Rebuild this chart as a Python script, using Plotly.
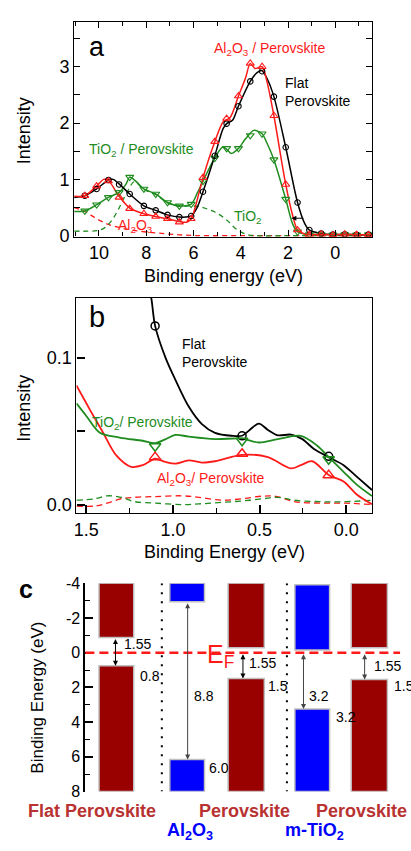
import plotly.graph_objects as go

W, H = 411, 851

# ---------------- Panel a data (binding energy eV, intensity) ----------------
a_black_E = [11.05, 10.6, 10.1, 9.6, 9.4, 9.15, 8.7, 8.1, 7.6, 7.1, 6.6, 6.1, 5.85, 5.6, 5.1, 4.75, 4.6, 4.35, 4.1, 3.6, 3.3, 3.1, 2.9, 2.6, 2.1, 1.6, 1.3, 1.1, 0.6, 0.1, -0.4, -0.9, -1.4, -1.55]
a_black_I = [0.68, 0.71, 0.83, 0.99, 1.0, 0.92, 0.74, 0.53, 0.45, 0.37, 0.33, 0.35, 0.5, 0.78, 1.42, 1.9, 1.99, 2.05, 2.30, 2.74, 2.9, 2.93, 2.8, 2.47, 1.57, 0.59, 0.22, 0.10, 0.04, 0.02, 0.025, 0.015, 0.02, 0.02]

a_red_E = [11.05, 10.6, 10.1, 9.8, 9.6, 9.15, 8.7, 8.1, 7.6, 7.1, 6.6, 6.3, 6.1, 5.9, 5.6, 5.1, 4.75, 4.45, 4.1, 3.8, 3.6, 3.4, 3.1, 2.9, 2.6, 2.1, 1.8, 1.6, 1.3, 1.1, 0.6, 0.1, -0.4, -0.9, -1.4, -1.55]
a_red_I = [0.70, 0.71, 0.88, 1.0, 0.98, 0.70, 0.49, 0.39, 0.34, 0.30, 0.25, 0.24, 0.30, 0.55, 1.03, 1.67, 2.02, 2.1, 2.48, 2.8, 3.06, 2.97, 3.0, 2.75, 2.13, 0.91, 0.35, 0.10, 0.03, 0.02, 0.025, 0.015, 0.025, 0.02, 0.015, 0.02]

a_green_E = [11.05, 10.6, 10.1, 9.6, 9.15, 8.85, 8.7, 8.4, 8.1, 7.6, 7.1, 6.6, 6.1, 5.85, 5.6, 5.1, 4.75, 4.4, 4.1, 3.8, 3.45, 3.1, 2.9, 2.6, 2.1, 1.8, 1.6, 1.3, 1.1, 0.6, 0.1, -0.4, -0.9, -1.4, -1.55]
a_green_I = [0.43, 0.44, 0.55, 0.68, 0.77, 0.92, 1.04, 0.95, 0.83, 0.74, 0.59, 0.53, 0.56, 0.75, 0.97, 1.38, 1.58, 1.46, 1.55, 1.72, 1.87, 1.81, 1.65, 1.35, 0.65, 0.2, 0.07, 0.03, 0.02, 0.02, 0.015, 0.02, 0.015, 0.02, 0.02]

a_mark_E = [10.6, 10.1, 9.6, 9.15, 8.7, 8.1, 7.6, 7.1, 6.6, 6.1, 5.6, 5.1, 4.6, 4.1, 3.6, 3.1, 2.6, 2.1, 1.6, 1.1, 0.6, 0.1, -0.4, -0.9, -1.4]
a_black_mark = [0.71, 0.83, 0.99, 0.91, 0.74, 0.53, 0.45, 0.37, 0.33, 0.35, 0.78, 1.42, 1.99, 2.30, 2.74, 2.92, 2.47, 1.57, 0.59, 0.10, 0.04, 0.02, 0.025, 0.015, 0.02]
a_red_mark = [0.71, 0.88, 0.97, 0.68, 0.48, 0.39, 0.34, 0.30, 0.24, 0.30, 1.03, 1.67, 2.08, 2.48, 3.06, 3.0, 2.13, 0.91, 0.10, 0.02, 0.025, 0.015, 0.025, 0.02, 0.015]
a_green_mark = [0.44, 0.55, 0.68, 0.77, 1.04, 0.83, 0.74, 0.59, 0.53, 0.56, 0.97, 1.38, 1.55, 1.55, 1.78, 1.81, 1.35, 0.65, 0.07, 0.02, 0.02, 0.015, 0.02, 0.015, 0.02]

a_al2o3_E = [11.05, 10.6, 10.1, 9.6, 9.1, 8.6, 8.1, 7.6, 7.1, 6.6, 6.1, 5.6, 4.0, 2.0, 0.0, -1.55]
a_al2o3_I = [0.50, 0.43, 0.30, 0.20, 0.14, 0.10, 0.07, 0.05, 0.03, 0.015, 0.005, 0.0, 0.0, 0.0, 0.0, 0.0]
a_tio2_E = [11.05, 10.5, 10.1, 9.8, 9.5, 9.2, 9.0, 8.75, 8.5, 8.1, 7.6, 7.1, 6.6, 6.1, 5.85, 5.6, 5.1, 4.6, 4.2, 3.8, 3.4, 2.0, 0.0, -1.55]
a_tio2_I = [0.08, 0.08, 0.09, 0.13, 0.25, 0.45, 0.62, 0.82, 0.96, 0.82, 0.73, 0.58, 0.52, 0.53, 0.52, 0.50, 0.42, 0.28, 0.12, 0.03, 0.0, 0.0, 0.0, 0.0]

a_xticks = [10, 8, 6, 4, 2, 0]
a_yticks = [0, 1, 2, 3]

# ---------------- Panel b data ----------------
b_black_E = [1.14, 1.125, 1.103, 1.042, 0.985, 0.909, 0.833, 0.757, 0.662, 0.601, 0.557, 0.504, 0.452, 0.395, 0.319, 0.253, 0.186, 0.101, 0.015, -0.061, -0.149]
b_black_I = [0.148, 0.141, 0.122, 0.100, 0.085, 0.067, 0.055, 0.049, 0.047, 0.047, 0.051, 0.0553, 0.051, 0.0473, 0.0478, 0.0447, 0.038, 0.0324, 0.0269, 0.0191, 0.0100]
b_green_E = [1.557, 1.498, 1.422, 1.308, 1.175, 1.103, 1.042, 0.985, 0.909, 0.757, 0.601, 0.504, 0.395, 0.262, 0.167, 0.101, 0.015, -0.061, -0.149]
b_green_I = [0.0691, 0.0602, 0.0491, 0.0458, 0.0436, 0.042, 0.0447, 0.0476, 0.0464, 0.0447, 0.0451, 0.0424, 0.0447, 0.0469, 0.0402, 0.0324, 0.0224, 0.0136, 0.0058]
b_red_E = [1.557, 1.479, 1.403, 1.327, 1.241, 1.175, 1.103, 1.042, 0.985, 0.909, 0.833, 0.757, 0.601, 0.452, 0.319, 0.262, 0.196, 0.101, 0.015, -0.061, -0.149]
b_red_I = [0.0813, 0.0647, 0.0491, 0.0336, 0.0258, 0.0269, 0.0313, 0.0291, 0.028, 0.0302, 0.0287, 0.0296, 0.034, 0.0324, 0.0247, 0.0269, 0.0296, 0.0202, 0.0158, 0.0069, 0.0002]
b_mark_E = [1.103, 0.601, 0.101]
b_black_mark = [0.122, 0.047, 0.0330]
b_green_mark = [0.0398, 0.0436, 0.0310]
b_red_mark = [0.0324, 0.0347, 0.0201]
b_dash_E = [1.557, 1.45, 1.38, 1.3, 1.22, 1.1, 0.95, 0.85, 0.72, 0.6, 0.48, 0.4, 0.3, 0.15, 0.0, -0.149]
b_red_dash = [-0.001, -0.001, 0.001, 0.004, 0.005, 0.0055, 0.006, 0.005, 0.003, 0.004, 0.0058, 0.0055, 0.002, 0.001, 0.001, 0.0]
b_green_dash = [0.003, 0.004, 0.006, 0.005, 0.002, 0.001, 0.0, 0.0005, 0.0015, 0.0025, 0.004, 0.005, 0.003, 0.002, 0.002, 0.003]
b_xticks = [1.5, 1.0, 0.5, 0.0]
b_xticktext = ["1.5", "1.0", "0.5", "0.0"]
b_yticks = [0.0, 0.05, 0.1]
b_yticktext = ["0.0", "", "0.1"]

# ---------------- Panel c data (binding energy, eV) ----------------
c_names = ["Flat Perovskite", "Al2O3", "Perovskite/Al2O3", "m-TiO2", "Perovskite/m-TiO2"]
c_cb_top = [-4.0, -4.0, -4.0, -3.92, -4.0]
c_cb_edge = [-0.87, -2.93, -0.28, -0.15, -0.28]
c_vb_edge = [0.75, 6.15, 1.49, 3.24, 1.55]
c_bottom = 8.0
c_is_perov = [True, False, True, False, True]
c_yticks = [-4, -2, 0, 2, 4, 6, 8]
c_yticktext = ["-4", "-2", "0", "2", "4", "6", "8"]
# layout: bar centres / widths in the panel's horizontal units (pixels)
c_pos = [114.2, 185.5, 245.0, 311.5, 369.0]
c_width = [35, 35, 36.5, 35, 36.5]
c_arrows = [(113.3, -0.87, 0.75, "black"), (186.0, -2.93, 6.15, "#444444"),
            (241.7, 0.0, 1.49, "black"), (302.7, 0.0, 3.24, "#444444"), (364.3, 0.0, 1.55, "#444444")]

BLACK = "black"
RED = "#ff1a1a"
GREEN = "#1e8c1e"
DARKRED = "#990000"
BLUE = "#0000ff"
LABELRED = "#b83232"
FONT = "Arial, Liberation Sans, sans-serif"


def px(x):
    return x / W


def py(y):
    return 1 - y / H


fig = go.Figure()

# ---- panel a traces
for E, I, col in [(a_al2o3_E, a_al2o3_I, RED), (a_tio2_E, a_tio2_I, GREEN)]:
    fig.add_trace(go.Scatter(x=E, y=I, mode="lines", line=dict(color=col, width=1.3, dash="5px,4px", shape="spline"),
                             xaxis="x", yaxis="y", showlegend=False, hoverinfo="skip"))
for E, I, col in [(a_green_E, a_green_I, GREEN), (a_black_E, a_black_I, BLACK), (a_red_E, a_red_I, RED)]:
    fig.add_trace(go.Scatter(x=E, y=I, mode="lines", line=dict(color=col, width=1.5, shape="spline", smoothing=0.8),
                             xaxis="x", yaxis="y", showlegend=False))
for I, col, sym, sz in [(a_green_mark, GREEN, "triangle-down-open", 7), (a_black_mark, BLACK, "circle-open", 5.5),
                        (a_red_mark, RED, "triangle-up-open", 7)]:
    fig.add_trace(go.Scatter(x=a_mark_E, y=I, mode="markers",
                             marker=dict(color=col, symbol=sym, size=sz, line=dict(width=1.1, color=col)),
                             xaxis="x", yaxis="y", showlegend=False))

# ---- panel b traces
for I, col in [(b_red_dash, RED), (b_green_dash, GREEN)]:
    fig.add_trace(go.Scatter(x=b_dash_E, y=I, mode="lines", line=dict(color=col, width=1.3, dash="6px,4px", shape="spline"),
                             xaxis="x2", yaxis="y2", showlegend=False))
for E, I, col in [(b_black_E, b_black_I, BLACK), (b_red_E, b_red_I, RED), (b_green_E, b_green_I, GREEN)]:
    fig.add_trace(go.Scatter(x=E, y=I, mode="lines", line=dict(color=col, width=1.8, shape="spline", smoothing=0.9),
                             xaxis="x2", yaxis="y2", showlegend=False))
for I, col, sym, sz in [(b_black_mark, BLACK, "circle-open", 8), (b_green_mark, GREEN, "triangle-down-open", 10),
                        (b_red_mark, RED, "triangle-up-open", 10)]:
    fig.add_trace(go.Scatter(x=b_mark_E, y=I, mode="markers",
                             marker=dict(color=col, symbol=sym, size=sz, line=dict(width=1.5, color=col)),
                             xaxis="x2", yaxis="y2", showlegend=False))

# ---- panel c bars
cols = [DARKRED if p else BLUE for p in c_is_perov]
fig.add_trace(go.Bar(x=c_pos, base=c_cb_top, y=[e - t for e, t in zip(c_cb_edge, c_cb_top)], width=c_width,
                     marker=dict(color=cols, line=dict(color="#c0c0c0", width=1.5)),
                     xaxis="x3", yaxis="y3", showlegend=False, hovertext=c_names))
fig.add_trace(go.Bar(x=c_pos, base=c_vb_edge, y=[c_bottom - v for v in c_vb_edge], width=c_width,
                     marker=dict(color=cols, line=dict(color="#c0c0c0", width=1.5)),
                     xaxis="x3", yaxis="y3", showlegend=False, hovertext=c_names))

ann = []


def txt(x, y, s, size=14, color=BLACK, xanchor="left", bold=False, angle=0, yanchor="middle"):
    if bold:
        s = "<b>" + s + "</b>"
    ann.append(dict(x=px(x), y=py(y), xref="paper", yref="paper", text=s, showarrow=False,
                    xanchor=xanchor, yanchor=yanchor, textangle=angle,
                    font=dict(size=size, color=color, family=FONT), align="left"))


# panel a labels
txt(95, 40, "a", 27, xanchor="center")
txt(268, 42, "Al<sub>2</sub>O<sub>3</sub> / Perovskite", 14, RED, xanchor="center")
txt(282, 86, "Flat<br>Perovskite", 14, BLACK)
txt(85, 145, "TiO<sub>2</sub> / Perovskite", 14, GREEN)
txt(231, 213, "TiO<sub>2</sub>", 14, GREEN)
txt(114, 222, "Al<sub>2</sub>O<sub>3</sub>", 14, RED)
txt(21, 125, "Intensity", 18, xanchor="center", angle=-90)
txt(222, 273, "Binding energy (eV)", 18, xanchor="center")
ann.append(dict(x=1.86, y=0.31, ax=1.29, ay=0.31, xref="x", yref="y", axref="x", ayref="y", text="",
                showarrow=True, arrowhead=2, arrowsize=1, arrowwidth=1, arrowcolor=BLACK))

# panel b labels
txt(95, 315, "b", 29, xanchor="center")
txt(178, 352, "Flat<br>Perovskite", 14, BLACK)
txt(88, 423, "TiO<sub>2</sub>/ Perovskite", 14, GREEN)
txt(153, 481, "Al<sub>2</sub>O<sub>3</sub>/ Perovskite", 14, RED)
txt(21, 408, "Intensity", 18, xanchor="center", angle=-90)
txt(223, 555, "Binding Energy (eV)", 18, xanchor="center")

# panel c labels
txt(23, 593, "c", 25, xanchor="center", bold=True)
txt(35, 704, "Binding Energy (eV)", 17, xanchor="center", angle=-90)
txt(120, 649, "1.55", 14)
txt(136, 682, "0.8", 14)
txt(203, 661, "E<sub>F</sub>", 25, RED)
txt(190, 702, "8.8", 14)
txt(205, 775, "6.0", 14)
txt(246, 668, "1.55", 14)
txt(265, 692, "1.5", 14)
txt(306, 702, "3.2", 14)
txt(333, 723, "3.2", 14)
txt(372, 671, "1.55", 14)
txt(392, 692, "1.5", 14)
txt(90, 819, "Flat Perovskite", 18, LABELRED, xanchor="center", bold=True)
txt(243, 819, "Perovskite", 18, LABELRED, xanchor="center", bold=True)
txt(361, 819, "Perovskite", 18, LABELRED, xanchor="center", bold=True)
txt(188, 840, "Al<sub>2</sub>O<sub>3</sub>", 18, BLUE, xanchor="center", bold=True)
txt(314, 840, "m-TiO<sub>2</sub>", 18, BLUE, xanchor="center", bold=True)

for xpos, y0, y1, col in c_arrows:
    ann.append(dict(x=xpos, y=y1, ax=xpos, ay=y0, xref="x3", yref="y3", axref="x3", ayref="y3", text="",
                    showarrow=True, arrowhead=2, startarrowhead=2, arrowside="end+start",
                    arrowsize=1, startarrowsize=1, arrowwidth=1, arrowcolor=col, standoff=0, startstandoff=0))

shapes = [
    dict(type="line", xref="x3", yref="y3", x0=160, x1=160, y0=-4, y1=8, line=dict(color=BLACK, width=2, dash="2px,7px")),
    dict(type="line", xref="x3", yref="y3", x0=286, x1=286, y0=-4, y1=8, line=dict(color=BLACK, width=2, dash="2px,7px")),
    dict(type="line", xref="x3", yref="y3", x0=83, x1=400, y0=0, y1=0, line=dict(color=RED, width=2.5, dash="9px,5px")),
]

tickfont = dict(size=18, color=BLACK, family=FONT)
axcommon = dict(showgrid=False, zeroline=False, showline=True, linecolor=BLACK, linewidth=1.3,
                ticks="inside", tickcolor=BLACK, tickfont=tickfont)

fig.update_layout(
    width=W, height=H, margin=dict(l=0, r=0, t=0, b=0),
    paper_bgcolor="white", plot_bgcolor="white", showlegend=False, barmode="overlay",
    font=dict(family=FONT),
    xaxis=dict(domain=[px(71.7), px(371.7)], range=[11.05, -1.55], anchor="y", tickmode="array", tickvals=a_xticks,
               ticklen=6, tickwidth=1.3, mirror="ticks",
               minor=dict(dtick=1, tick0=0, ticklen=4, ticks="inside", tickcolor=BLACK, tickwidth=1.2), **axcommon),
    yaxis=dict(domain=[py(233.3), py(14)], range=[-0.017, 3.8], anchor="x", tickmode="array", tickvals=a_yticks,
               ticklen=6, tickwidth=1.3, mirror="ticks",
               minor=dict(dtick=0.5, tick0=0, ticklen=6, ticks="inside", tickcolor=BLACK, tickwidth=1.2), **axcommon),
    xaxis2=dict(domain=[px(74), px(371.7)], range=[1.557, -0.149], anchor="y2", tickmode="array", tickvals=b_xticks,
                ticktext=b_xticktext, ticklen=8, tickwidth=1.5, mirror=True,
                minor=dict(dtick=0.25, tick0=0, ticklen=5, ticks="inside", tickcolor=BLACK, tickwidth=1.3), **axcommon),
    yaxis2=dict(domain=[py(515.7), py(296)], range=[-0.006, 0.141], anchor="x2", tickmode="array", tickvals=b_yticks,
                ticktext=b_yticktext, ticklen=8, tickwidth=1.5, mirror=True, **axcommon),
    xaxis3=dict(domain=[0, 1], range=[0, W], anchor="y3", visible=False, fixedrange=True),
    yaxis3=dict(domain=[py(799.5), py(587)], range=[8, -4], anchor="free", position=px(81.7), tickmode="array",
                tickvals=c_yticks, ticktext=c_yticktext, ticklen=8, tickwidth=1.5, showgrid=False, zeroline=False,
                showline=True, linecolor=BLACK, linewidth=1.5, ticks="inside", tickcolor=BLACK,
                tickfont=dict(size=16, color=BLACK, family=FONT),
                minor=dict(dtick=1, tick0=0, ticklen=5, ticks="inside", tickcolor=BLACK, tickwidth=1.3)),
    annotations=ann, shapes=shapes,
)

fig.write_html("out.html")
